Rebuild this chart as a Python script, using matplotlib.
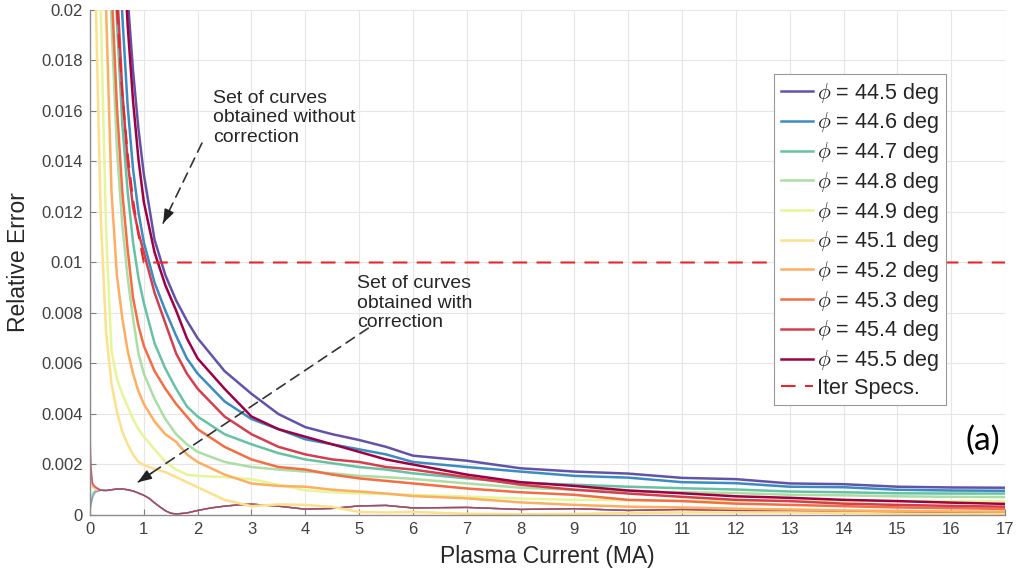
import matplotlib
matplotlib.use('Agg')
import matplotlib.pyplot as plt
import numpy as np

plt.rcParams['font.family'] = ['Liberation Sans', 'DejaVu Sans']
plt.rcParams['mathtext.fontset'] = 'cm'

# plasma current grid (MA) for the uncorrected curves
current = [0.1, 0.2, 0.3, 0.4, 0.5, 0.6, 0.7, 0.8, 0.9, 1.0, 1.2, 1.4, 1.6, 1.8, 2.0,
           2.5, 3.0, 3.5, 4.0, 4.5, 5.0, 5.5, 6.0, 7, 8, 9, 10, 11, 12, 13, 14, 15, 16, 17]

phi_labels = ['44.5', '44.6', '44.7', '44.8', '44.9', '45.1', '45.2', '45.3', '45.4', '45.5']
colors = ['#6353a8', '#3a8cc2', '#66c2a5', '#abdda4', '#e6f598',
          '#fee08b', '#fdae61', '#f46d43', '#d53e4f', '#9e0142']

err_445 = [0.40, 0.15, 0.08, 0.05, 0.035, 0.026, 0.0205, 0.0176, 0.0153, 0.0135, 0.0109, 0.0095,
           0.0085, 0.0077, 0.0070, 0.0057, 0.0048, 0.0040, 0.00348, 0.0032, 0.00297, 0.0027,
           0.00235, 0.00215, 0.00185, 0.00172, 0.00164, 0.00147, 0.00142, 0.00125, 0.00122,
           0.00112, 0.00109, 0.00108]
err_446 = [0.30, 0.09, 0.05, 0.034, 0.025, 0.0198, 0.0162, 0.0137, 0.0120, 0.0108, 0.0092, 0.0081,
           0.0071, 0.0062, 0.0056, 0.0045, 0.0038, 0.0034, 0.0030, 0.0028, 0.0026, 0.0024,
           0.0021, 0.0019, 0.00172, 0.00155, 0.00148, 0.0013, 0.00126, 0.00112, 0.0011,
           0.0010, 0.00097, 0.00096]
err_447 = [0.15, 0.07, 0.04, 0.026, 0.0196, 0.0155, 0.0128, 0.0108, 0.0094, 0.0084, 0.0068, 0.0058,
           0.0050, 0.0043, 0.0039, 0.0032, 0.0028, 0.00245, 0.0022, 0.00205, 0.0019, 0.0018,
           0.00165, 0.00145, 0.00128, 0.0012, 0.00112, 0.00106, 0.00101, 0.00093, 0.0009,
           0.00086, 0.00085, 0.00085]
err_448 = [0.12, 0.05, 0.028, 0.0195, 0.0145, 0.0115, 0.0094, 0.0078, 0.0064, 0.0056, 0.0046, 0.0038,
           0.0032, 0.0028, 0.0025, 0.0021, 0.0019, 0.0018, 0.00172, 0.00165, 0.00155, 0.0015,
           0.00143, 0.00125, 0.00108, 0.0010, 0.00095, 0.0009, 0.00087, 0.0008, 0.00078,
           0.00074, 0.00072, 0.00071]
err_449 = [0.040, 0.020, 0.0112, 0.0065, 0.0054, 0.0048, 0.0043, 0.0038, 0.0034, 0.0031, 0.0026, 0.0021,
           0.0018, 0.0016, 0.00155, 0.0015, 0.00142, 0.0012, 0.00098, 0.0009, 0.00086, 0.00083,
           0.0008, 0.00073, 0.00065, 0.0006, 0.00058, 0.00057, 0.00056, 0.00056, 0.00055,
           0.00055, 0.00055, 0.00055]
err_451 = [0.021, 0.0118, 0.0072, 0.0052, 0.0041, 0.0033, 0.0028, 0.0024, 0.0021, 0.00198, 0.00182,
           0.0017, 0.0015, 0.0013, 0.0011, 0.0006, 0.00035, 0.00042, 0.0004, 0.00032, 0.00012,
           0.0001, 0.00012, 0.00005, 0.00003, 0.00004, 0.00008, 0.0001, 0.0001, 0.0001, 0.00008,
           0.00005, 0.00003, 0.00003]
err_452 = [0.09, 0.035, 0.020, 0.0128, 0.0095, 0.0078, 0.0065, 0.0056, 0.0049, 0.0044, 0.0037, 0.0032,
           0.0029, 0.0024, 0.0021, 0.0016, 0.00125, 0.00115, 0.00112, 0.0010, 0.00093, 0.00085,
           0.00075, 0.00066, 0.0005, 0.0004, 0.00033, 0.0003, 0.00025, 0.00022, 0.00018,
           0.00016, 0.00014, 0.00013]
err_453 = [0.10, 0.045, 0.028, 0.021, 0.0162, 0.0128, 0.0105, 0.0086, 0.0075, 0.0067, 0.0057, 0.0050,
           0.0044, 0.0039, 0.0034, 0.0027, 0.0022, 0.0019, 0.0018, 0.0016, 0.00145, 0.00135,
           0.00125, 0.00105, 0.0009, 0.0008, 0.0006, 0.00055, 0.00045, 0.0004, 0.00035,
           0.0003, 0.00027, 0.00024]
err_454 = [0.20, 0.07, 0.04, 0.028, 0.021, 0.0168, 0.014, 0.0122, 0.0112, 0.0104, 0.0088, 0.0076,
           0.0064, 0.0056, 0.0050, 0.0039, 0.0032, 0.0027, 0.0024, 0.0022, 0.0021, 0.0019,
           0.0018, 0.0015, 0.0012, 0.0010, 0.00085, 0.00072, 0.0006, 0.00055, 0.00045,
           0.0004, 0.00036, 0.00033]
err_455 = [0.35, 0.12, 0.06, 0.04, 0.03, 0.0235, 0.0194, 0.0164, 0.0141, 0.0124, 0.0104, 0.0091,
           0.0081, 0.0070, 0.0062, 0.0050, 0.0039, 0.0034, 0.0031, 0.0028, 0.0025, 0.0022,
           0.0020, 0.0016, 0.0013, 0.00115, 0.00097, 0.00086, 0.00074, 0.00068, 0.0006,
           0.00055, 0.00049, 0.00044]
uncorrected = [err_445, err_446, err_447, err_448, err_449,
               err_451, err_452, err_453, err_454, err_455]

# corrected curves: individual start (I = 0, 0.02, 0.05, 0.1), common tail afterwards
corr_head_current = [0, 0.02, 0.05, 0.1]
corr_head = [
    [0.0001, 0.0004, 0.0007, 0.0009],
    [0.0002, 0.0005, 0.0008, 0.00095],
    [0.0003, 0.0006, 0.00085, 0.00097],
    [0.0004, 0.0007, 0.0009, 0.0010],
    [0.0006, 0.0008, 0.00095, 0.0010],
    [0.0012, 0.0011, 0.00105, 0.00102],
    [0.0016, 0.0013, 0.0011, 0.00105],
    [0.0022, 0.0015, 0.00115, 0.00107],
    [0.0028, 0.0017, 0.0012, 0.0011],
    [0.0035, 0.0019, 0.00125, 0.00112],
]
corr_tail_current = [0.2, 0.3, 0.4, 0.5, 0.6, 0.7, 0.8, 0.9, 1.0, 1.1, 1.2, 1.3, 1.4, 1.5, 1.6,
                     1.8, 2.0, 2.25, 2.5, 2.75, 3.0, 3.5, 4.0, 4.5, 5.0, 5.5, 6, 7, 8, 9, 10,
                     11, 12, 13, 14, 15, 16, 17]
corr_tail = [0.00098, 0.00097, 0.0010, 0.00103, 0.00103, 0.0010, 0.00095, 0.00087, 0.00078,
             0.00066, 0.00048, 0.00032, 0.00017, 0.00007, 0.00004, 0.00008, 0.00018, 0.00028,
             0.00035, 0.0004, 0.00043, 0.00035, 0.00023, 0.00026, 0.00036, 0.00038, 0.00028,
             0.0003, 0.00022, 0.00025, 0.00018, 0.00022, 0.00018, 0.00016, 0.00014, 0.00012,
             0.0001, 0.0001]
# drawing order of the corrected set (red then purple on top -> mauve overlap)
corr_order = [1, 2, 3, 4, 5, 6, 7, 9, 8, 0]

# ITER specification
spec_current = [0.5, 0.6, 0.7, 0.8, 0.9, 1.0, 17]
spec_err = [0.02, 0.0167, 0.0143, 0.0125, 0.0111, 0.0100, 0.0100]

fig = plt.figure(figsize=(10.19, 5.78), dpi=100)
ax = fig.add_axes([0.0883, 0.109, 0.898, 0.8737])

for k in corr_order:
    ax.plot(corr_head_current + corr_tail_current, corr_head[k] + corr_tail,
            color=colors[k], lw=1.0, alpha=0.5)

for vals, lab, c in zip(uncorrected, phi_labels, colors):
    ax.plot(current, vals, color=c, lw=1.8, label=r'$\phi$ = ' + lab + ' deg')

ax.plot(spec_current, spec_err, color='#e8262b', lw=1.5, dashes=(7, 4.5), label='Iter Specs.')

ax.set_xlim(0, 17)
ax.set_ylim(0, 0.02)
ax.set_xticks(range(18))
yt = np.arange(0, 0.0201, 0.002)
ax.set_yticks(yt)
ax.set_yticklabels(['%g' % v for v in yt])
ax.tick_params(direction='in', length=4, color='#7f7f7f', labelsize=12,
               labelcolor='#404040', pad=5)
for s in ['top', 'right']:
    ax.spines[s].set_visible(False)
for s in ['left', 'bottom']:
    ax.spines[s].set_color('#8c8c8c')
    ax.spines[s].set_linewidth(1.0)
ax.grid(True, color='#e6e6e6', lw=0.8)
ax.set_axisbelow(True)

ax.set_xlabel('Plasma Current (MA)', fontsize=16.5, color='#262626', labelpad=6)
ax.set_ylabel('Relative Error', fontsize=16.5, color='#262626', labelpad=8)

leg = ax.legend(loc='upper right', bbox_to_anchor=(0.935, 0.873), borderaxespad=0,
                fontsize=15.5, handlelength=1.5, handletextpad=0.2, labelspacing=0.22,
                borderpad=0.3, fancybox=False, framealpha=1, edgecolor='#999999')
leg.get_frame().set_linewidth(0.8)
for t in leg.get_texts():
    t.set_color('#262626')

# annotations
ax.text(2.28, 0.01685, 'Set of curves\nobtained without\ncorrection', fontsize=14,
        color='#262626', va='top', ha='left', linespacing=1.2)
ax.text(4.97, 0.0095, 'Set of curves\nobtained with\ncorrection', fontsize=14,
        color='#262626', va='top', ha='left', linespacing=1.2)

arrows = [((2.08, 0.01473), (1.36, 0.01156)), ((5.17, 0.0074), (0.89, 0.0013))]
for start, end in arrows:
    ax.annotate('', xy=end, xytext=start,
                arrowprops=dict(arrowstyle='-', color='#333333', lw=1.2,
                                linestyle=(0, (6, 4)), shrinkA=0, shrinkB=0))
    back = (end[0] + 0.06 * (start[0] - end[0]), end[1] + 0.06 * (start[1] - end[1]))
    ax.annotate('', xy=end, xytext=back,
                arrowprops=dict(arrowstyle='-|>,head_length=0.8,head_width=0.3',
                                color='#222222', lw=1.2, shrinkA=0, shrinkB=0))

ax.text(0.995, 0.147, '(a)', transform=ax.transAxes, fontsize=24, family='Lato',
        ha='right', va='center', color='black')

fig.savefig('out.png', dpi=100)
